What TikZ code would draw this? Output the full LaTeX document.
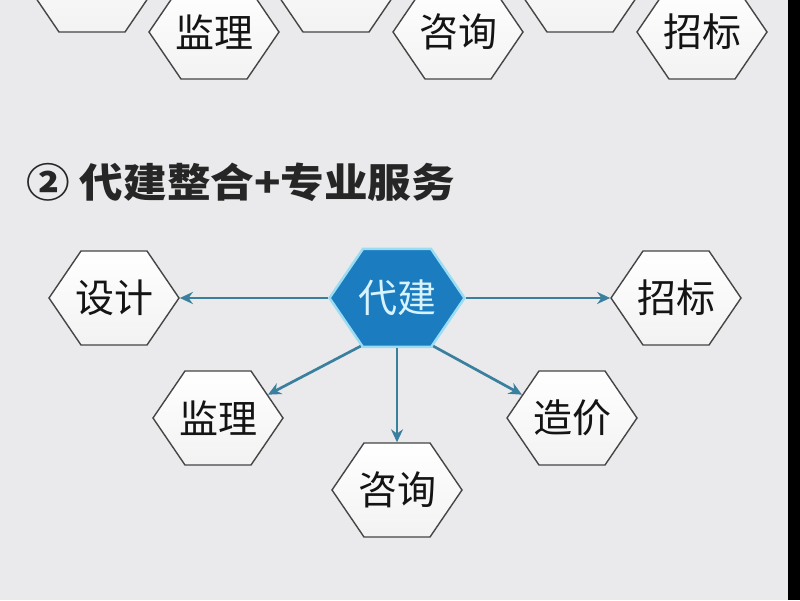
\documentclass[tikz,border=0pt]{standalone}
\usepackage{fontspec}
\setmainfont{Noto Sans CJK SC}
\usetikzlibrary{shapes.symbols,arrows.meta}
\definecolor{bgc}{HTML}{EAEAEC}
\definecolor{hexline}{HTML}{454545}
\definecolor{arr}{HTML}{3A7F9E}
\definecolor{hub}{HTML}{1C7CC0}
\definecolor{hubline}{HTML}{9ADCF2}
\definecolor{hubtext}{HTML}{D6F3FF}
\tikzset{
  hexbase/.style={signal, signal to=west and east, signal from=nowhere,
    signal pointer angle=111.5, minimum width=130pt, minimum height=94pt,
    inner xsep=-6pt, inner ysep=0pt, font=\fontsize{39}{39}\selectfont},
  hexbox/.style={hexbase, draw=hexline, line width=1.4pt,
    top color=white, bottom color=black!5, text=black!92},
  hubbox/.style={hexbase, minimum width=135pt, minimum height=98pt,
    inner xsep=-5pt, draw=hubline, line width=2.5pt, fill=hub, text=hubtext},
  link/.style={draw=arr, line width=2.7pt, -{Stealth[length=13pt,width=12pt]}},
}
\begin{document}
\begin{tikzpicture}[x=1pt,y=1pt]
\useasboundingbox (0,0) rectangle (800,600);
\clip (0,0) rectangle (800,600);
\fill[bgc] (0,0) rectangle (800,600);

% top row (cut off)
\node[hexbox] (u1) at (92,615) {};
\node[hexbox] (u2) at (336,615) {};
\node[hexbox] (u3) at (580,615) {};
\node[hexbox] (tjl) at (214,568) {监理};
\node[hexbox] (tzx) at (458,568) {咨询};
\node[hexbox] (tzb) at (702,568) {招标};

% title
\node[anchor=west, font=\fontsize{40}{40}\selectfont\bfseries, text=black!85, inner sep=0pt, xscale=1.09, transform shape] (title) at (26,418) {② 代建整合+专业服务};

% diagram
\node[hubbox] (dj) at (397,302) {代建};
\node[hexbox] (sj) at (114,302) {设计};
\node[hexbox] (zb) at (676,302) {招标};
\node[hexbox] (jl) at (218,182) {监理};
\node[hexbox] (zx) at (397,110) {咨询};
\node[hexbox] (zj) at (572,182) {造价};

\draw[link] (dj.west) -- (sj.east);
\draw[link] (dj.east) -- (zb.west);
\draw[link] (dj.233) -- (jl.25);
\draw[link] (dj.south) -- (zx.north);
\draw[link] (dj.307) -- (zj.155);

% right edge
\draw[white!85!gray, line width=1pt] (785,0) -- (785,600);
\fill[black] (788,0) rectangle (800,600);
\end{tikzpicture}
\end{document}
